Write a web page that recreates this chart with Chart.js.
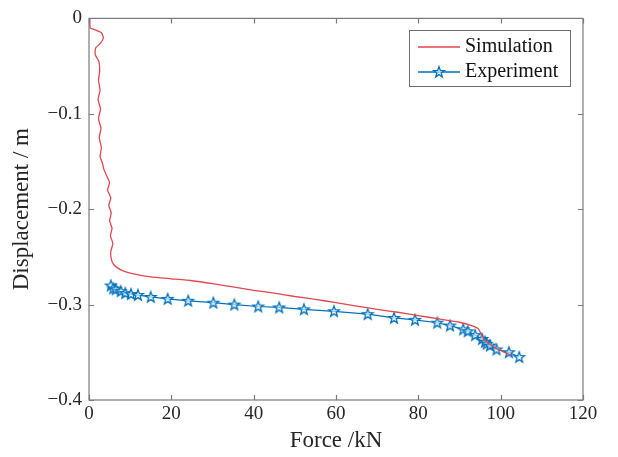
<!DOCTYPE html>
<html>
<head>
<meta charset="utf-8">
<script src="https://cdn.jsdelivr.net/npm/chart.js@4/dist/chart.umd.min.js"></script>
<style>
html,body{margin:0;padding:0;background:#fff;}
#wrap{width:618px;height:457px;}
</style>
</head>
<body>
<div id="wrap"><canvas id="c" width="618" height="457"></canvas></div>
<script>
// Simulation curve (Force kN, Displacement m)
const simForce = [0.2,0.3,1.5,3.0,3.5,2.8,1.6,1.5,2.4,2.6,2.3,2.7,2.2,2.8,2.3,2.9,2.5,3.0,2.7,3.3,3.6,4.3,5.0,4.5,5.3,4.8,5.4,5.0,5.6,5.2,5.8,5.3,5.4,6.0,7.5,10,15,20,25,30,35,40,45,50,55,60,65,70,75,80,85,90,93,94.5,95.2,96,97.5,99,101,102.5];
const simDisp = [0,-0.010,-0.012,-0.015,-0.020,-0.026,-0.031,-0.038,-0.045,-0.055,-0.065,-0.075,-0.085,-0.095,-0.105,-0.115,-0.125,-0.135,-0.145,-0.152,-0.158,-0.165,-0.172,-0.180,-0.188,-0.196,-0.204,-0.212,-0.220,-0.228,-0.236,-0.244,-0.252,-0.258,-0.263,-0.267,-0.271,-0.273,-0.275,-0.278,-0.2815,-0.285,-0.288,-0.2915,-0.2945,-0.298,-0.3015,-0.305,-0.308,-0.3115,-0.315,-0.3185,-0.322,-0.325,-0.330,-0.337,-0.342,-0.346,-0.350,-0.353];
// Experiment points
const expForce = [5.3,5.9,6.5,7.7,8.8,10.2,11.9,15.0,19.1,24.1,30.2,35.3,41.1,46.2,52.2,59.5,67.7,74.1,79.2,84.6,87.7,90.9,92.0,93.8,95.5,96.2,96.6,97.4,99.0,102.0,104.5];
const expDisp = [-0.280,-0.283,-0.284,-0.286,-0.288,-0.289,-0.290,-0.292,-0.294,-0.296,-0.298,-0.300,-0.302,-0.303,-0.305,-0.307,-0.310,-0.314,-0.316,-0.319,-0.322,-0.326,-0.328,-0.332,-0.336,-0.339,-0.341,-0.343,-0.347,-0.350,-0.355];
const xTicks = [0,20,40,60,80,100,120];
const yTicks = [0,-0.1,-0.2,-0.3,-0.4];
const seriesNames = ['Simulation','Experiment'];

const RED = '#e2474f';
const BLUE = '#0072bd';
const AXIS = '#7a7a7a';
const TXT = '#262626';
const SERIF = '"Liberation Serif","Times New Roman",serif';

function makeStar(){
  const c = document.createElement('canvas');
  c.width = 16; c.height = 16;
  const g = c.getContext('2d');
  const cx = 8, cy = 8.3, R = 5.6, r = 2.3;
  g.beginPath();
  for (let i = 0; i < 10; i++) {
    const a = -Math.PI/2 + i*Math.PI/5;
    const rr = i % 2 === 0 ? R : r;
    const x = cx + rr*Math.cos(a), y = cy + rr*Math.sin(a);
    if (i === 0) g.moveTo(x,y); else g.lineTo(x,y);
  }
  g.closePath();
  g.fillStyle = 'rgba(255,255,255,0.6)';
  g.fill();
  g.strokeStyle = BLUE;
  g.lineWidth = 1.3;
  g.stroke();
  return c;
}
const star = makeStar();

const fmtY = v => {
  if (Math.abs(v) < 1e-9) return '0';
  return (v < 0 ? '\u2212' : '') + Math.abs(v).toFixed(1);
};

const frame = {
  id: 'frame',
  afterDatasetsDraw(chart){
    const {ctx, chartArea:a, scales:{x, y}} = chart;
    ctx.save();
    ctx.strokeStyle = AXIS;
    ctx.lineWidth = 1.2;
    ctx.strokeRect(a.left, a.top, a.right - a.left, a.bottom - a.top);
    const L = 5;
    ctx.beginPath();
    xTicks.forEach(v => {
      const px = Math.round(x.getPixelForValue(v)) + 0.5;
      ctx.moveTo(px, a.bottom); ctx.lineTo(px, a.bottom - L);
      ctx.moveTo(px, a.top); ctx.lineTo(px, a.top + L);
    });
    yTicks.forEach(v => {
      const py = Math.round(y.getPixelForValue(v)) + 0.5;
      ctx.moveTo(a.left, py); ctx.lineTo(a.left + L, py);
      ctx.moveTo(a.right, py); ctx.lineTo(a.right - L, py);
    });
    ctx.stroke();

    // legend
    const bx = 409, by = 30, bw = 161, bh = 56;
    ctx.fillStyle = '#fff';
    ctx.fillRect(bx, by, bw, bh);
    ctx.strokeStyle = '#6e6e6e';
    ctx.lineWidth = 1;
    ctx.strokeRect(bx + 0.5, by + 0.5, bw, bh);
    const rows = [47, 72];
    ctx.lineWidth = 1.3;
    ctx.strokeStyle = RED;
    ctx.beginPath(); ctx.moveTo(418, rows[0]); ctx.lineTo(460, rows[0]); ctx.stroke();
    ctx.strokeStyle = BLUE;
    ctx.beginPath(); ctx.moveTo(418, rows[1]); ctx.lineTo(460, rows[1]); ctx.stroke();
    ctx.drawImage(star, 439 - 8, rows[1] - 8);
    ctx.fillStyle = '#111';
    ctx.font = '20px ' + SERIF;
    ctx.textBaseline = 'middle';
    ctx.textAlign = 'left';
    ctx.fillText(seriesNames[0], 465, rows[0]);
    ctx.fillText(seriesNames[1], 465, rows[1]);
    ctx.restore();
  }
};

new Chart(document.getElementById('c'), {
  type: 'scatter',
  data: {
    datasets: [
      {
        label: seriesNames[0],
        data: simForce.map((f,i) => ({x:f, y:simDisp[i]})),
        showLine: true,
        borderColor: RED,
        borderWidth: 1.3,
        pointRadius: 0,
        tension: 0.15,
        fill: false
      },
      {
        label: seriesNames[1],
        data: expForce.map((f,i) => ({x:f, y:expDisp[i]})),
        showLine: true,
        borderColor: BLUE,
        borderWidth: 1.2,
        pointStyle: star,
        pointRadius: 6,
        fill: false
      }
    ]
  },
  options: {
    responsive: false,
    animation: false,
    devicePixelRatio: 1,
    layout: { padding: { left: 0, top: 17, right: 35, bottom: 0 } },
    plugins: { legend: { display: false }, tooltip: { enabled: false } },
    scales: {
      x: {
        type: 'linear', min: 0, max: 120,
        afterBuildTicks: s => { s.ticks = xTicks.map(v => ({value: v})); },
        afterFit: s => { s.height = 57; },
        ticks: { color: TXT, font: { family: SERIF, size: 19 }, padding: 3, maxRotation: 0 },
        grid: { display: false, drawTicks: false },
        border: { display: false },
        title: { display: true, text: 'Force /kN', color: TXT, font: { family: SERIF, size: 23 }, padding: { top: 0, bottom: 2 } }
      },
      y: {
        type: 'linear', min: -0.4, max: 0,
        afterBuildTicks: s => { s.ticks = yTicks.map(v => ({value: v})); },
        afterFit: s => { s.width = 89; },
        ticks: { color: TXT, font: { family: SERIF, size: 19 }, padding: 7, callback: v => fmtY(v) },
        grid: { display: false, drawTicks: false },
        border: { display: false },
        title: { display: true, text: 'Displacement / m', color: TXT, font: { family: SERIF, size: 23 }, padding: { top: 8, bottom: 0 } }
      }
    }
  },
  plugins: [frame]
});
</script>
</body>
</html>
